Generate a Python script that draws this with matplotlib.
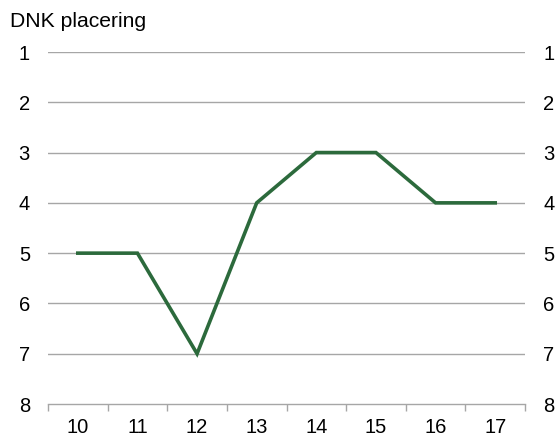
import matplotlib.pyplot as plt
import numpy as np

plt.rcParams['font.family'] = ['Liberation Sans', 'DejaVu Sans']

years = ['10', '11', '12', '13', '14', '15', '16', '17']
placering = [5, 5, 7, 4, 3, 3, 4, 4]

fig = plt.figure(figsize=(5.56, 4.37), dpi=100)
ax = fig.add_axes([0.0863, 0.0755, 0.858, 0.8055])

x = np.arange(len(years))
ax.plot(x, placering, color='#2c6a3c', lw=2.6, solid_joinstyle='miter', zorder=3)

ax.set_xlim(-0.5, len(years) - 0.5)
ax.set_ylim(8, 1)
ax.set_yticks(range(1, 9))
ax.set_xticks(x)
ax.set_xticklabels(years)
ax.set_xticks(np.arange(-0.5, len(years)), minor=True)

for v in range(1, 8):
    ax.axhline(v, color='#a6a6a6', lw=1.0, zorder=1)

for s in ['top', 'left', 'right']:
    ax.spines[s].set_visible(False)
ax.spines['bottom'].set_color('#a6a6a6')
ax.spines['bottom'].set_linewidth(1.0)

ax.tick_params(axis='x', which='major', length=0, pad=10, labelsize=14.5)
ax.tick_params(axis='x', which='minor', length=5, color='#a6a6a6', width=1.0)
ax.tick_params(axis='y', length=0, labelsize=14.5, pad=13,
               left=True, right=True, labelleft=True, labelright=True)

fig.text(0.018, 0.95, 'DNK placering', fontsize=15.2, ha='left', va='center')

fig.savefig('out.png', dpi=100)
